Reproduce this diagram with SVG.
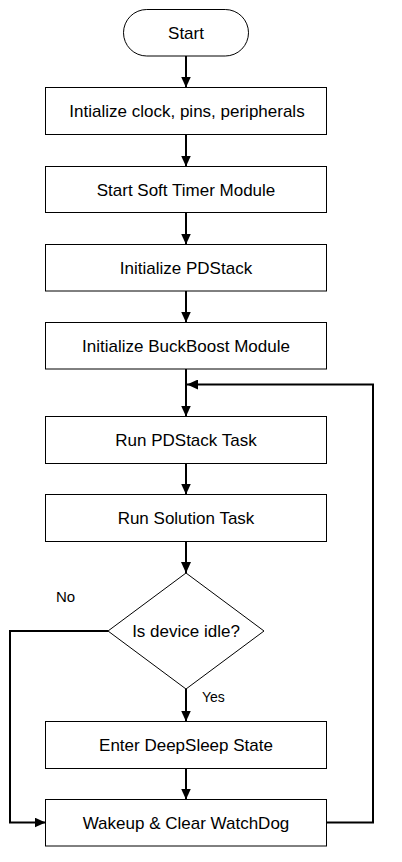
<svg xmlns="http://www.w3.org/2000/svg" width="402" height="862" viewBox="0 0 402 862">
<defs>
<style>
.box{fill:#fff;stroke:#000;stroke-width:1}
.t{font-family:"Liberation Sans",Arial,sans-serif;font-size:17px;fill:#000;text-anchor:middle}
.lbl{font-family:"Liberation Sans",Arial,sans-serif;fill:#000}
.c{fill:none;stroke:#000;stroke-width:2}
</style>
<marker id="ah" markerUnits="userSpaceOnUse" markerWidth="11" markerHeight="10" refX="11" refY="5" orient="auto">
<path d="M0,0 L11,5 L0,10 z" fill="#000"/>
</marker>
</defs>
<rect width="402" height="862" fill="#fff"/>
<g id="connectors">
<line class="c" x1="186" y1="56" x2="186" y2="87.5" marker-end="url(#ah)"/>
<line class="c" x1="186" y1="134.5" x2="186" y2="166.5" marker-end="url(#ah)"/>
<line class="c" x1="186" y1="212.5" x2="186" y2="244.5" marker-end="url(#ah)"/>
<line class="c" x1="186" y1="291" x2="186" y2="322.5" marker-end="url(#ah)"/>
<line class="c" x1="186" y1="369" x2="186" y2="416.5" marker-end="url(#ah)"/>
<line class="c" x1="186" y1="463.5" x2="186" y2="494.5" marker-end="url(#ah)"/>
<line class="c" x1="186" y1="541.5" x2="186" y2="573" marker-end="url(#ah)"/>
<line class="c" x1="186" y1="689" x2="186" y2="721.5" marker-end="url(#ah)"/>
<line class="c" x1="186" y1="768.5" x2="186" y2="799.5" marker-end="url(#ah)"/>
<polyline class="c" points="108,631 10,631 10,822.5 45.5,822.5" marker-end="url(#ah)"/>
<polyline class="c" points="326.5,822.5 373,822.5 373,384.5 187,384.5" marker-end="url(#ah)"/>
<text class="lbl" x="56" y="602" font-size="15">No</text>
<text class="lbl" x="202" y="702" font-size="14">Yes</text>
</g>
<g id="start">
<rect class="box" x="123.5" y="9.5" width="125" height="46.5" rx="23.25"/>
<text class="t" x="186" y="38.5">Start</text>
</g>
<g id="init-clock">
<rect class="box" x="45.5" y="87.5" width="281" height="47"/>
<text class="t" x="187" y="117">Intialize clock, pins, peripherals</text>
</g>
<g id="soft-timer">
<rect class="box" x="45.5" y="166.5" width="281" height="46"/>
<text class="t" x="186" y="195.5">Start Soft Timer Module</text>
</g>
<g id="init-pdstack">
<rect class="box" x="45.5" y="244.5" width="281" height="46.5"/>
<text class="t" x="186" y="273.5">Initialize PDStack</text>
</g>
<g id="init-buckboost">
<rect class="box" x="45.5" y="322.5" width="281" height="46.5"/>
<text class="t" x="186" y="351.5">Initialize BuckBoost Module</text>
</g>
<g id="run-pdstack">
<rect class="box" x="45.5" y="416.5" width="281" height="47"/>
<text class="t" x="186" y="446">Run PDStack Task</text>
</g>
<g id="run-solution">
<rect class="box" x="45.5" y="494.5" width="281" height="47"/>
<text class="t" x="186" y="524">Run Solution Task</text>
</g>
<g id="idle-decision">
<polygon class="box" points="186,573 264,631 186,689 108,631"/>
<text class="t" x="186" y="637">Is device idle?</text>
</g>
<g id="deepsleep">
<rect class="box" x="45.5" y="721.5" width="281" height="47"/>
<text class="t" x="186" y="751">Enter DeepSleep State</text>
</g>
<g id="wakeup">
<rect class="box" x="45.5" y="799.5" width="281" height="46.5"/>
<text class="t" x="186" y="829">Wakeup &amp; Clear WatchDog</text>
</g>
</svg>
